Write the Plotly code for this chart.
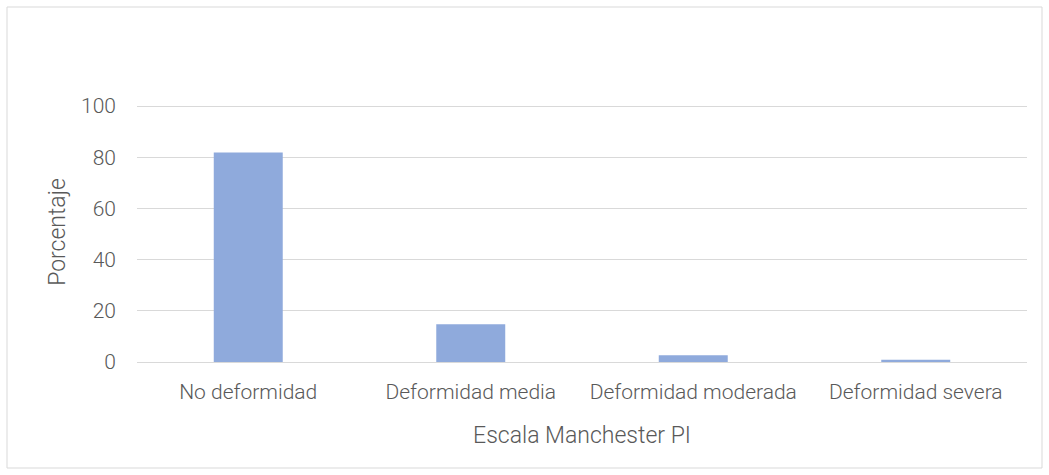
import plotly.graph_objects as go

categories = ["No deformidad", "Deformidad media", "Deformidad moderada", "Deformidad severa"]
values = [81.8, 14.7, 2.6, 0.9]
y_ticks = [0, 20, 40, 60, 80, 100]

fig = go.Figure()
fig.add_trace(go.Bar(x=categories, y=values, marker=dict(color="#8FAADC", line=dict(width=0))))

L, R, T, B = 137, 22, 102, 113
W, H = 1049, 475
pw, ph = W - L - R, H - T - B
ytop = ph / 2.56  # keeps 100 at the same pixel, so its gridline is drawn

fig.update_layout(
    width=W, height=H,
    margin=dict(l=L, r=R, t=T, b=B),
    paper_bgcolor="white", plot_bgcolor="white",
    bargap=0.69,
    showlegend=False,
    font=dict(family="Roboto", color="#595959", size=21, weight=300),
    xaxis=dict(
        title=dict(text="Escala Manchester PI", font=dict(size=23, color="#595959", weight=300), standoff=23),
        showline=False, ticks="", showgrid=False, ticklabelstandoff=15,
        tickfont=dict(size=21, color="#595959", weight=300),
    ),
    yaxis=dict(
        title=dict(text="Porcentaje", font=dict(size=23, color="#595959", weight=300), standoff=8),
        range=[0, ytop], tickvals=y_ticks, showgrid=True, gridcolor="#D9D9D9", gridwidth=1,
        zeroline=True, zerolinecolor="#D9D9D9", zerolinewidth=1, ticks="", ticklabelstandoff=20,
        tickfont=dict(size=21, color="#595959", weight=300),
    ),
    shapes=[dict(
        type="rect", xref="paper", yref="paper",
        x0=(7 - L) / pw, x1=(1042 - L) / pw,
        y0=(H - B - 468) / ph, y1=(H - B - 7) / ph,
        line=dict(color="#D9D9D9", width=1), fillcolor="rgba(0,0,0,0)", layer="below",
    )],
)

fig.write_html("out.html", config={"displayModeBar": False},
               post_script="document.body.style.margin='0';document.body.style.padding='0';")
